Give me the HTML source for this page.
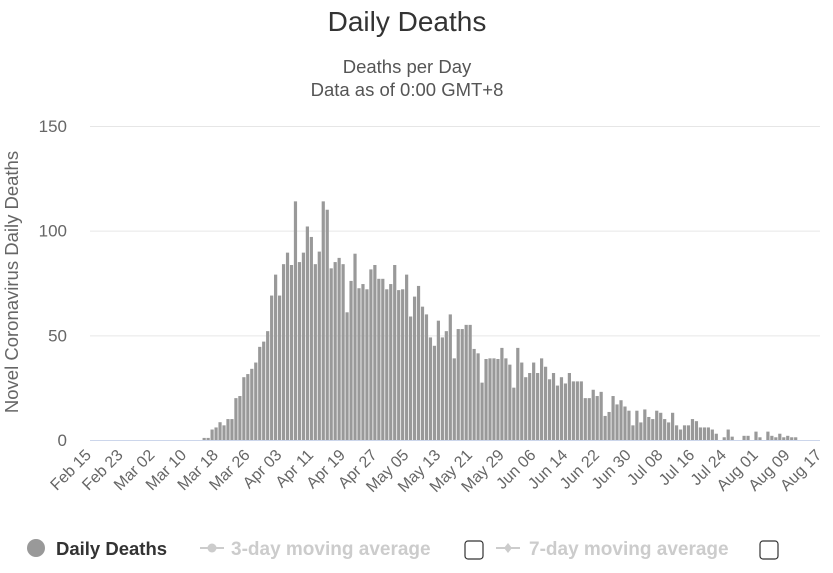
<!DOCTYPE html>
<html><head><meta charset="utf-8"><style>
body{margin:0;background:#fff;font-family:"Liberation Sans",sans-serif}
svg text{font-family:"Liberation Sans",sans-serif}
</style></head><body>
<svg id="chart" width="833" height="568" viewBox="0 0 833 568" xmlns="http://www.w3.org/2000/svg">
<text x="407" y="31" text-anchor="middle" font-size="28" fill="#333">Daily Deaths</text>
<text x="407" y="73" text-anchor="middle" font-size="18.5" fill="#555">Deaths per Day</text>
<text x="407" y="96" text-anchor="middle" font-size="18.5" fill="#555">Data as of 0:00 GMT+8</text>
<text transform="translate(18,282) rotate(-90)" text-anchor="middle" font-size="18.5" fill="#666">Novel Coronavirus Daily Deaths</text>
<g id="grid"></g><g id="bars"></g><g id="xlabels"></g>
<line x1="90" y1="440.5" x2="820" y2="440.5" stroke="#ccd6eb" stroke-width="1"/>
<g>
<g><circle cx="36" cy="548" r="9" fill="#999"/><text x="56" y="555" font-size="18.5" font-weight="bold" fill="#333">Daily Deaths</text></g>
<g><line x1="200" y1="548" x2="224" y2="548" stroke="#ccc" stroke-width="2"/><circle cx="212" cy="548" r="4.5" fill="#ccc"/><text x="231" y="555" font-size="19" font-weight="bold" fill="#ccc">3-day moving average</text></g>
<rect x="465" y="541" width="18" height="18" rx="3" fill="#fff" stroke="#333" stroke-width="1.2"/>
<g><line x1="496" y1="548" x2="520" y2="548" stroke="#ccc" stroke-width="2"/><path d="M508 543 L512 548 L508 553 L504 548Z" fill="#ccc"/><text x="529" y="555" font-size="19" font-weight="bold" fill="#ccc">7-day moving average</text></g>
<rect x="760" y="541" width="18" height="18" rx="3" fill="#fff" stroke="#333" stroke-width="1.2"/>
</g>
</svg>
<script>
const startDay = 28;
const deaths = [1,1,5,6,8.5,7,10,10,20,21,30,31.5,34,37,44.5,47,52,69,79,69,84,89.5,83.6,114,85,89.5,102,97,84,90,114,110,82,85,87,84,61,76,
89,72.5,74.5,72,81.5,83.6,77,77,72,74.5,83.6,71.6,72,79,59,68.5,73.6,63.7,60,49,45,57,49,52,60,39,53,53,55,55,43.5,41.4,27.4,38.7,39,39,38.7,44,39,36,25,44,37,
30,32,37,32,39,35,29,32,26,30,27,32,28,28,28,20,20,24,21,23,11.5,13.4,21,17,19,16,14,7,14,8.4,14.6,11,10,14,13,10,8.4,13,7,5,7,7,10,9,6,6,6,5,3,0,1.3,5,1.6,0,0,2,2,0,4,1.3,0,4,2,1.3,3,1.3,2,1.3,1.3];
const yTicks = [0,50,100,150];
const xTickLabels = ["Feb 15","Feb 23","Mar 02","Mar 10","Mar 18","Mar 26","Apr 03","Apr 11","Apr 19","Apr 27","May 05","May 13","May 21","May 29","Jun 06","Jun 14","Jun 22","Jun 30","Jul 08","Jul 16","Jul 24","Aug 01","Aug 09","Aug 17"];
const NS="http://www.w3.org/2000/svg";
function x(d){return 93+d*3.97;}
function y(v){return 440-v*(314/150);}
const grid=document.getElementById('grid');
yTicks.forEach(t=>{
  if(t>0){const l=document.createElementNS(NS,'line');
  
  
  l.setAttribute('x1',90);l.setAttribute('x2',820);l.setAttribute('y1',y(t)+0.5);l.setAttribute('y2',y(t)+0.5);l.setAttribute('stroke','#e6e6e6');grid.appendChild(l);}
  const tx=document.createElementNS(NS,'text');
  
  
  tx.setAttribute('x',67);tx.setAttribute('y',y(t)+6);tx.setAttribute('text-anchor','end');tx.setAttribute('font-size','17');tx.setAttribute('fill','#666');tx.textContent=t;grid.appendChild(tx);
});
const bars=document.getElementById('bars');
deaths.forEach((v,i)=>{
  if(v<=0)return;
  const r=document.createElementNS(NS,'rect');
  
  
  const cx=x(startDay+i);
  r.setAttribute('x',cx-1.6);r.setAttribute('width',3.2);r.setAttribute('y',y(v));r.setAttribute('height',440-y(v));r.setAttribute('fill','#999');bars.appendChild(r);
});
const xl=document.getElementById('xlabels');
xTickLabels.forEach((s,i)=>{
  const t=document.createElementNS(NS,'text');
  
  
  const px=x(i*8)-1;
  t.setAttribute('transform','translate('+px+',456) rotate(-45)');t.setAttribute('text-anchor','end');t.setAttribute('font-size','16');t.setAttribute('fill','#666');t.textContent=s;xl.appendChild(t);
});
</script>
</body></html>
